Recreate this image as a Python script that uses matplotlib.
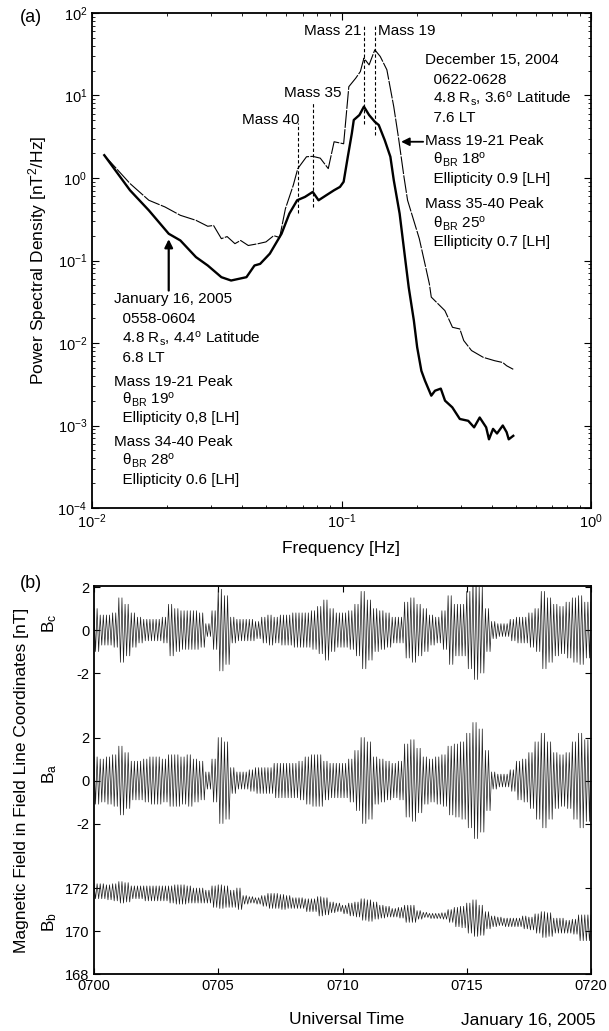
import numpy as np
import matplotlib.pyplot as plt

plt.rcParams['font.family'] = ['Liberation Sans', 'DejaVu Sans']
plt.rcParams['mathtext.fontset'] = 'custom'
plt.rcParams['mathtext.rm'] = 'Liberation Sans'
plt.rcParams['mathtext.it'] = 'Liberation Sans:italic'
plt.rcParams['mathtext.bf'] = 'Liberation Sans:bold'

# ---- panel (a): power spectra ----
jan_freq = [0.0112, 0.0142, 0.0169, 0.0203, 0.0226, 0.0261, 0.0291, 0.0330, 0.0361,
            0.0416, 0.0448, 0.0472, 0.0516, 0.0575, 0.0618, 0.0664, 0.0714, 0.0767,
            0.0809, 0.0869, 0.0934, 0.0986, 0.102, 0.106, 0.110, 0.112, 0.118, 0.123,
            0.129, 0.136, 0.141, 0.149, 0.157, 0.162, 0.171, 0.181, 0.186, 0.195,
            0.201, 0.209, 0.216, 0.229, 0.237, 0.250, 0.260, 0.278, 0.298, 0.322,
            0.340, 0.358, 0.380, 0.390, 0.405, 0.420, 0.443, 0.459, 0.468, 0.488]
jan_psd = [1.89, 0.71, 0.405, 0.211, 0.175, 0.110, 0.087, 0.0628, 0.0572,
           0.0628, 0.087, 0.091, 0.121, 0.211, 0.37, 0.537, 0.59, 0.678,
           0.537, 0.618, 0.711, 0.78, 0.90, 1.81, 3.47, 5.05, 5.8, 7.33,
           5.8, 4.8, 4.39, 2.88, 1.81, 0.94, 0.37, 0.091, 0.047, 0.0187,
           0.0089, 0.0046, 0.0035, 0.0023, 0.00264, 0.0028, 0.0020, 0.00166, 0.0012, 0.00114,
           0.00095, 0.00125, 0.00095, 0.00068, 0.00091, 0.0008, 0.001, 0.00083, 0.00068, 0.00075]

dec_freq = [0.0112, 0.0142, 0.0169, 0.0196, 0.0226, 0.0261, 0.0291, 0.0307, 0.0330,
            0.0348, 0.0374, 0.0394, 0.0423, 0.0464, 0.0498, 0.0535, 0.0565, 0.0596,
            0.0641, 0.0668, 0.0724, 0.0767, 0.0822, 0.0885, 0.0934, 0.102, 0.107,
            0.114, 0.119, 0.123, 0.129, 0.136, 0.143, 0.152, 0.162, 0.169, 0.178,
            0.184, 0.205, 0.216, 0.225, 0.229, 0.2596, 0.2785, 0.298, 0.309, 0.332,
            0.370, 0.411, 0.443, 0.459, 0.488]
dec_psd = [1.89, 0.857, 0.537, 0.446, 0.353, 0.307, 0.26, 0.266, 0.184,
           0.195, 0.160, 0.175, 0.152, 0.160, 0.168, 0.20, 0.19, 0.425,
           0.82, 1.30, 1.81, 1.83, 1.74, 1.30, 2.75, 2.6, 12.8,
           16.2, 19.5, 28.4, 23.5, 35.8, 29.7, 20.5, 7.3, 3.16, 1.03,
           0.537, 0.184, 0.091, 0.052, 0.036, 0.0247, 0.0155, 0.0148, 0.0107, 0.0081,
           0.0067, 0.0061, 0.0058, 0.0053, 0.0048]

mass_names = ['Mass 40', 'Mass 35', 'Mass 21', 'Mass 19']
mass_freq = [0.0668, 0.0767, 0.123, 0.136]
mass_top = [4.6, 8.3, 71.0, 71.0]
mass_bot = [0.38, 0.45, 4.5, 3.3]

dec_text = ['December 15, 2004', '  0622-0628', r'  4.8 R$_{\rm s}$, 3.6$^{\rm o}$ Latitude',
            '  7.6 LT', 'Mass 19-21 Peak', r'  θ$_{\rm BR}$ 18$^{\rm o}$',
            '  Ellipticity 0.9 [LH]', 'Mass 35-40 Peak', r'  θ$_{\rm BR}$ 25$^{\rm o}$',
            '  Ellipticity 0.7 [LH]']
jan_text = ['January 16, 2005', '  0558-0604', r'  4.8 R$_{\rm s}$, 4.4$^{\rm o}$ Latitude',
            '  6.8 LT', 'Mass 19-21 Peak', r'  θ$_{\rm BR}$ 19$^{\rm o}$',
            '  Ellipticity 0,8 [LH]', 'Mass 34-40 Peak', r'  θ$_{\rm BR}$ 28$^{\rm o}$',
            '  Ellipticity 0.6 [LH]']

# ---- panel (b): wave amplitude per 15 s and Bb mean level per 30 s ----
bc_amp = [1.0, 0.7, 0.7, 0.8, 1.5, 1.2, 0.8, 0.6, 0.5, 0.5, 0.5, 0.6,
          1.2, 1.0, 0.9, 0.9, 0.9, 0.8, 0.3, 0.9, 1.9, 1.6, 0.6, 0.5,
          0.5, 0.5, 0.4, 0.6, 0.7, 0.6, 0.7, 0.7, 0.8, 0.8, 0.8, 0.9,
          1.1, 1.4, 1.0, 0.8, 0.8, 0.9, 1.2, 1.8, 1.4, 1.0, 0.9, 0.8,
          0.6, 0.6, 1.3, 1.5, 1.2, 1.0, 0.7, 0.6, 0.9, 1.6, 1.2, 1.2,
          1.8, 2.3, 2.0, 1.0, 0.4, 0.3, 0.3, 0.5, 0.6, 0.6, 0.8, 1.0,
          1.8, 1.5, 1.2, 1.1, 1.3, 1.5, 1.6, 1.3]
ba_amp = [1.1, 1.0, 1.1, 1.2, 1.6, 1.3, 0.9, 0.9, 1.0, 1.1, 1.1, 1.0,
          1.2, 1.2, 1.1, 1.2, 1.0, 0.9, 0.4, 1.0, 2.0, 1.8, 0.6, 0.4,
          0.4, 0.5, 0.6, 0.6, 0.6, 0.8, 0.8, 0.8, 0.8, 0.9, 1.1, 1.2,
          1.2, 0.9, 0.8, 0.8, 0.8, 1.0, 1.4, 2.0, 1.8, 1.1, 1.0, 0.9,
          0.8, 0.9, 1.7, 1.9, 1.5, 1.1, 1.0, 1.1, 1.2, 1.6, 1.7, 1.8,
          2.2, 2.7, 2.4, 1.4, 0.4, 0.3, 0.3, 0.5, 0.9, 1.0, 1.3, 1.8,
          2.2, 1.8, 1.3, 1.2, 1.3, 1.8, 2.2, 1.9]
bb_amp = [0.35, 0.35, 0.35, 0.4, 0.5, 0.45, 0.3, 0.3, 0.35, 0.35, 0.35, 0.35,
          0.4, 0.45, 0.45, 0.4, 0.35, 0.35, 0.3, 0.5, 0.55, 0.5, 0.4, 0.5,
          0.2, 0.15, 0.15, 0.25, 0.35, 0.35, 0.35, 0.3, 0.25, 0.25, 0.3, 0.3,
          0.45, 0.4, 0.25, 0.2, 0.2, 0.3, 0.35, 0.5, 0.5, 0.4, 0.3, 0.25,
          0.2, 0.25, 0.4, 0.4, 0.2, 0.12, 0.12, 0.12, 0.15, 0.3, 0.45, 0.5,
          0.7, 0.85, 0.7, 0.4, 0.25, 0.2, 0.2, 0.2, 0.2, 0.3, 0.3, 0.45,
          0.6, 0.55, 0.35, 0.35, 0.3, 0.35, 0.6, 0.6]
bb_mean = [171.85, 171.8, 171.8, 171.8, 171.75, 171.75, 171.7, 171.7, 171.65, 171.6,
           171.6, 171.5, 171.45, 171.4, 171.4, 171.35, 171.3, 171.2, 171.15, 171.1,
           171.0, 171.0, 170.95, 170.9, 170.85, 170.8, 170.75, 170.7, 170.7, 170.65,
           170.6, 170.5, 170.45, 170.4, 170.4, 170.35, 170.3, 170.25, 170.2, 170.15]
time_labels = ['0700', '0705', '0710', '0715', '0720']

fig = plt.figure(figsize=(6.09, 10.31), dpi=100)
W, H = 609, 1031
FS = 11

# panel (a)
ax1 = fig.add_axes([92 / W, 1 - 508 / H, (591 - 92) / W, (508 - 13) / H])
ax1.loglog(dec_freq, dec_psd, color='k', lw=0.8, ls=(0, (16, 1.2)))
ax1.loglog(jan_freq, jan_psd, color='k', lw=1.7)
for f, top, bot in zip(mass_freq, mass_top, mass_bot):
    ax1.plot([f, f], [bot, top], color='k', lw=0.8, ls=(0, (3, 2)))
ax1.text(0.068, 5.1, mass_names[0], ha='right', va='center', fontsize=FS)
ax1.text(0.0767, 10.6, mass_names[1], ha='center', va='center', fontsize=FS)
ax1.text(0.1205, 61, mass_names[2], ha='right', va='center', fontsize=FS)
ax1.text(0.140, 61, mass_names[3], ha='left', va='center', fontsize=FS)

dec_y = [0.906, 0.865, 0.826, 0.788, 0.741, 0.704, 0.664, 0.615, 0.574, 0.538]
for s, y in zip(dec_text, dec_y):
    ax1.text(0.668, y, s, transform=ax1.transAxes, ha='left', va='center', fontsize=FS)
jan_y = [0.423, 0.381, 0.342, 0.304, 0.255, 0.219, 0.182, 0.133, 0.096, 0.057]
for s, y in zip(jan_text, jan_y):
    ax1.text(0.0445, y, s, transform=ax1.transAxes, ha='left', va='center', fontsize=FS)

ax1.annotate('', xy=(0.169, 2.75), xytext=(0.218, 2.75),
             arrowprops=dict(arrowstyle='-|>', color='k', lw=1.3, mutation_scale=12))
ax1.annotate('', xy=(0.0203, 0.196), xytext=(0.0203, 0.04),
             arrowprops=dict(arrowstyle='-|>', color='k', lw=1.6, mutation_scale=12))

ax1.set_xlim(1e-2, 1)
ax1.set_ylim(1e-4, 1e2)
ax1.set_xlabel('Frequency [Hz]', fontsize=12.5, labelpad=7)
ax1.set_ylabel('Power Spectral Density [nT$^2$/Hz]', fontsize=12.5, labelpad=6)
ax1.tick_params(which='both', direction='in', top=True, right=True, labelsize=10.5)
ax1.tick_params(which='major', length=5)
ax1.tick_params(which='minor', length=2.5)
for sp in ax1.spines.values():
    sp.set_linewidth(1.3)
fig.text(20 / W, 1 - 18 / H, '(a)', fontsize=13, ha='left', va='center')

# panel (b): one axis, the three components stacked with offsets
ax2 = fig.add_axes([94 / W, 1 - 974 / H, (591 - 94) / W, (974 - 586) / H])
n = 321
t = np.arange(n) / 16.0
blk = np.minimum((t * 4).astype(int), 79)
sgn = np.where(np.arange(n) % 2 == 0, 1.0, -1.0)
bc = 16.0 + sgn * np.array(bc_amp)[blk]
ba = 9.0 + sgn * np.array(ba_amp)[blk]
bb = np.array(bb_mean)[blk // 2] - 168 + sgn * np.array(bb_amp)[blk]
for y in (bc, ba, bb):
    ax2.plot(t, y, color='0.1', lw=0.5)
ax2.set_xlim(0, 20)
ax2.set_ylim(0, 18.05)
ax2.set_xticks([0, 5, 10, 15, 20])
ax2.set_xticklabels(time_labels)
ax2.set_yticks([0, 2, 4, 7, 9, 11, 14, 16, 18])
ax2.set_yticklabels(['168', '170', '172', '-2', '0', '2', '-2', '0', '2'])
ax2.tick_params(direction='in', top=True, right=True, labelsize=10.5, length=4)
for sp in ax2.spines.values():
    sp.set_linewidth(1.3)
ytr = ax2.get_yaxis_transform()
ax2.text(-0.09, 16.3, r'B$_{\rm c}$', transform=ytr, rotation=90,
         ha='center', va='center', fontsize=12.5)
ax2.text(-0.09, 9.3, r'B$_{\rm a}$', transform=ytr, rotation=90,
         ha='center', va='center', fontsize=12.5)
ax2.text(-0.09, 2.4, r'B$_{\rm b}$', transform=ytr, rotation=90,
         ha='center', va='center', fontsize=12.5)
fig.text(22 / W, 1 - 780 / H, 'Magnetic Field in Field Line Coordinates [nT]', rotation=90,
         ha='center', va='center', fontsize=12.5)
fig.text(347 / W, 1 - 1020 / H, 'Universal Time', ha='center', va='center', fontsize=12.5)
fig.text(528 / W, 1 - 1020 / H, 'January 16, 2005', ha='center', va='center', fontsize=12.5)
fig.text(20 / W, 1 - 584 / H, '(b)', fontsize=13, ha='left', va='center')

fig.savefig('out.png', dpi=100)
